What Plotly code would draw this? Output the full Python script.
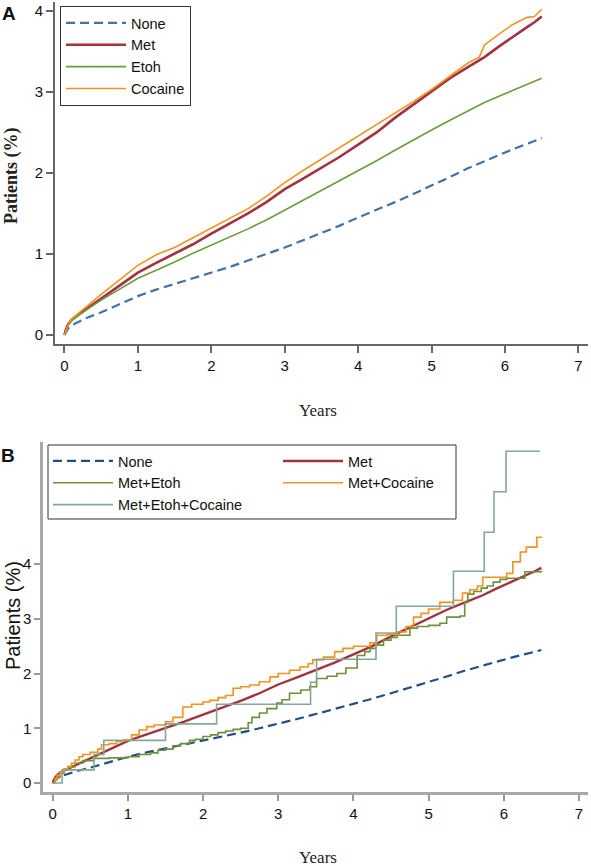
import plotly.graph_objects as go

# ---------------- Panel A data ----------------
years_a = [0, 0.02, 0.05, 0.1, 0.2, 0.3, 0.5, 0.75, 1.0, 1.25, 1.5, 1.75, 2.0, 2.25, 2.5,
           2.75, 3.0, 3.25, 3.5, 3.75, 4.0, 4.25, 4.5, 4.75, 5.0, 5.25, 5.5, 5.65, 5.72,
           5.9, 6.1, 6.3, 6.4, 6.5]
none_pct = [0, 0.04, 0.08, 0.12, 0.17, 0.21, 0.28, 0.38, 0.48, 0.56, 0.63, 0.70, 0.77, 0.84,
            0.92, 1.00, 1.08, 1.17, 1.26, 1.35, 1.45, 1.54, 1.64, 1.74, 1.85, 1.95, 2.06,
            2.12, 2.14, 2.21, 2.29, 2.36, 2.40, 2.43]
met_pct = [0, 0.07, 0.13, 0.19, 0.26, 0.32, 0.45, 0.61, 0.77, 0.89, 1.00, 1.12, 1.25, 1.37,
           1.50, 1.64, 1.80, 1.93, 2.06, 2.20, 2.35, 2.50, 2.68, 2.84, 3.00, 3.17, 3.31,
           3.39, 3.43, 3.55, 3.68, 3.80, 3.86, 3.93]
etoh_pct = [0, 0.06, 0.12, 0.18, 0.25, 0.31, 0.43, 0.57, 0.70, 0.80, 0.90, 1.01, 1.11, 1.21,
            1.31, 1.42, 1.54, 1.66, 1.78, 1.90, 2.02, 2.15, 2.28, 2.41, 2.53, 2.65, 2.77,
            2.84, 2.87, 2.94, 3.02, 3.10, 3.13, 3.17]
cocaine_pct = [0, 0.06, 0.12, 0.20, 0.28, 0.35, 0.50, 0.68, 0.86, 0.99, 1.08, 1.20, 1.32,
               1.44, 1.56, 1.71, 1.88, 2.03, 2.17, 2.31, 2.45, 2.59, 2.73, 2.88, 3.03, 3.20,
               3.36, 3.43, 3.58, 3.70, 3.83, 3.92, 3.93, 4.02]

# ---------------- Panel B data ----------------
met_etoh_years = [0, 0.03, 0.06, 0.1, 0.15, 0.2, 0.3, 0.4, 0.55, 0.75, 1.0, 1.15, 1.3, 1.4,
                  1.5, 1.6, 1.7, 1.82, 1.9, 2.0, 2.1, 2.2, 2.3, 2.4, 2.5, 2.6, 2.65, 2.75,
                  2.85, 2.98, 3.05, 3.15, 3.3, 3.42, 3.51, 3.65, 3.78, 3.9, 4.05, 4.15, 4.22,
                  4.3, 4.4, 4.5, 4.58, 4.75, 4.85, 5.0, 5.15, 5.24, 5.42, 5.48, 5.52, 5.6,
                  5.7, 5.78, 5.86, 5.95, 6.04, 6.28, 6.5]
met_etoh_pct = [0, 0.06, 0.11, 0.18, 0.24, 0.30, 0.36, 0.41, 0.45, 0.46, 0.48, 0.52, 0.55,
                0.60, 0.62, 0.68, 0.72, 0.78, 0.80, 0.85, 0.88, 0.92, 0.95, 0.98, 1.00, 1.10,
                1.20, 1.28, 1.36, 1.46, 1.52, 1.64, 1.70, 1.76, 1.91, 1.95, 2.00, 2.10, 2.33,
                2.40, 2.46, 2.52, 2.61, 2.66, 2.70, 2.83, 2.86, 2.88, 2.92, 3.03, 3.05, 3.30,
                3.45, 3.50, 3.56, 3.60, 3.67, 3.72, 3.74, 3.86, 3.88]
met_coc_years = [0, 0.03, 0.06, 0.1, 0.15, 0.2, 0.25, 0.3, 0.35, 0.4, 0.5, 0.6, 0.65, 0.75,
                 0.85, 0.95, 1.05, 1.15, 1.25, 1.35, 1.5, 1.6, 1.73, 1.85, 2.0, 2.09, 2.2,
                 2.3, 2.4, 2.5, 2.62, 2.75, 2.89, 3.0, 3.15, 3.29, 3.4, 3.46, 3.6, 3.75, 3.86,
                 4.0, 4.22, 4.31, 4.45, 4.58, 4.7, 4.8, 4.9, 5.0, 5.15, 5.33, 5.45, 5.55,
                 5.65, 5.72, 6.04, 6.12, 6.22, 6.3, 6.44, 6.5]
met_coc_pct = [0, 0.08, 0.14, 0.20, 0.26, 0.30, 0.36, 0.42, 0.48, 0.52, 0.56, 0.62, 0.70,
               0.72, 0.76, 0.79, 0.88, 0.97, 1.03, 1.06, 1.12, 1.20, 1.39, 1.44, 1.48, 1.51,
               1.56, 1.60, 1.73, 1.76, 1.79, 1.85, 1.94, 2.00, 2.06, 2.12, 2.18, 2.25, 2.30,
               2.40, 2.46, 2.50, 2.56, 2.70, 2.72, 2.76, 2.86, 3.03, 3.10, 3.18, 3.30, 3.34,
               3.47, 3.53, 3.60, 3.76, 3.83, 4.04, 4.22, 4.31, 4.49, 4.50]
triple_years = [0, 0.125, 0.55, 0.68, 1.5, 2.18, 3.43, 3.51, 4.3, 4.57, 5.33, 5.74, 5.87,
                6.03, 6.48]
triple_pct = [0, 0.24, 0.52, 0.78, 1.08, 1.44, 1.84, 2.26, 2.74, 3.23, 3.87, 4.58, 5.32,
              6.06, 6.06]

x_ticks = [0, 1, 2, 3, 4, 5, 6, 7]
y_ticks_a = [0, 1, 2, 3, 4]
y_ticks_b = [0, 1, 2, 3, 4]

W, H = 591, 866
SANS = "Liberation Sans"
SERIF = "Liberation Serif"

C_NONE_A = "#4472a4"
C_NONE_B = "#1f4f86"
C_MET = "#a3323f"
C_ETOH = "#6b9c3d"
C_METETOH = "#6f8f3c"
C_COC = "#f4921f"
C_TRIPLE = "#86a797"

fig = go.Figure()

# Panel A
fig.add_trace(go.Scatter(x=years_a, y=none_pct, mode="lines", name="None",
                         line=dict(color=C_NONE_A, width=2.2, dash="9px,5px"),
                         xaxis="x", yaxis="y", legend="legend"))
fig.add_trace(go.Scatter(x=years_a, y=met_pct, mode="lines", name="Met",
                         line=dict(color=C_MET, width=2.6), xaxis="x", yaxis="y",
                         legend="legend"))
fig.add_trace(go.Scatter(x=years_a, y=etoh_pct, mode="lines", name="Etoh",
                         line=dict(color=C_ETOH, width=1.6), xaxis="x", yaxis="y",
                         legend="legend"))
fig.add_trace(go.Scatter(x=years_a, y=cocaine_pct, mode="lines", name="Cocaine",
                         line=dict(color=C_COC, width=1.6), xaxis="x", yaxis="y",
                         legend="legend"))

# Panel B
fig.add_trace(go.Scatter(x=years_a, y=none_pct, mode="lines", name="None",
                         line=dict(color=C_NONE_B, width=2.2, dash="9px,5px"),
                         xaxis="x2", yaxis="y2", legend="legend2"))
fig.add_trace(go.Scatter(x=years_a, y=met_pct, mode="lines", name="Met",
                         line=dict(color=C_MET, width=2.4), xaxis="x2", yaxis="y2",
                         legend="legend2"))
fig.add_trace(go.Scatter(x=met_etoh_years, y=met_etoh_pct, mode="lines", name="Met+Etoh",
                         line=dict(color=C_METETOH, width=1.6, shape="hv"),
                         xaxis="x2", yaxis="y2", legend="legend2"))
fig.add_trace(go.Scatter(x=met_coc_years, y=met_coc_pct, mode="lines", name="Met+Cocaine",
                         line=dict(color=C_COC, width=1.6, shape="hv"),
                         xaxis="x2", yaxis="y2", legend="legend2"))
fig.add_trace(go.Scatter(x=triple_years, y=triple_pct, mode="lines",
                         name="Met+Etoh+Cocaine",
                         line=dict(color=C_TRIPLE, width=1.6, shape="hv"),
                         xaxis="x2", yaxis="y2", legend="legend2"))

def px_x(p):
    return p / W

def px_y(p):
    return 1 - p / H

axis_common = dict(showgrid=False, zeroline=False, showline=True, ticks="outside",
                   mirror=False, fixedrange=True, automargin=False,
                   ticklabeloverflow="allow")

fig.update_layout(
    width=W, height=H,
    margin=dict(l=0, r=0, t=0, b=0, pad=0, autoexpand=False),
    paper_bgcolor="white", plot_bgcolor="white",
    xaxis=dict(domain=[px_x(55), px_x(588)], range=[-0.129, 7.13], anchor="y",
               tickvals=x_ticks, ticklen=7, tickwidth=1.5, tickcolor="#666",
               linecolor="#666", linewidth=1.6,
               tickfont=dict(family=SANS, size=15, color="#111"), **axis_common),
    yaxis=dict(domain=[px_y(344), px_y(2)], range=[-0.111, 4.11], anchor="x",
               tickvals=y_ticks_a, ticklen=7, tickwidth=1.5, tickcolor="#666",
               linecolor="#666", linewidth=1.6,
               tickfont=dict(family=SANS, size=15, color="#111"), **axis_common),
    xaxis2=dict(domain=[px_x(43), px_x(588)], range=[-0.129, 7.12], anchor="y2",
                tickvals=x_ticks, ticklen=6, tickwidth=1.5, tickcolor="#999",
                linecolor="#a8a8a8", linewidth=2.5,
                tickfont=dict(family=SANS, size=15, color="#111"), **axis_common),
    yaxis2=dict(domain=[px_y(792), px_y(442)], range=[-0.164, 6.23], anchor="x2",
                tickvals=y_ticks_b, ticklen=6, tickwidth=1.5, tickcolor="#999",
                linecolor="#a8a8a8", linewidth=2.5,
                tickfont=dict(family=SANS, size=15, color="#111"), **axis_common),
    legend=dict(x=px_x(60), y=px_y(6), xanchor="left", yanchor="top",
                bordercolor="#333", borderwidth=1, bgcolor="white",
                itemwidth=60, traceorder="normal",
                font=dict(family=SANS, size=14.5, color="#111")),
    legend2=dict(x=px_x(48), y=px_y(445), xanchor="left", yanchor="top",
                 orientation="h", entrywidth=155, entrywidthmode="pixels",
                 borderwidth=0, bgcolor="rgba(0,0,0,0)",
                 itemwidth=60, traceorder="normal",
                 font=dict(family=SANS, size=14.5, color="#111")),
    showlegend=True,
    # frame drawn round the two-column legend of panel B
    shapes=[dict(type="rect", xref="paper", yref="paper", layer="below",
                 x0=px_x(48), x1=px_x(456), y0=px_y(519), y1=px_y(445),
                 line=dict(color="#333", width=1), fillcolor="white")],
)

annotations = [
    dict(text="<b>A</b>", x=px_x(9), y=px_y(14), font=dict(family=SANS, size=19, color="#111")),
    dict(text="<b>B</b>", x=px_x(8), y=px_y(455), font=dict(family=SANS, size=19, color="#111")),
    dict(text="<b>Patients (%)</b>", x=px_x(11), y=px_y(176), textangle=-90,
         font=dict(family=SERIF, size=18, color="#222")),
    dict(text="Patients (%)", x=px_x(13), y=px_y(616), textangle=-90,
         font=dict(family=SANS, size=20, color="#111")),
    dict(text="Years", x=px_x(318), y=px_y(410), font=dict(family=SERIF, size=17, color="#222")),
    dict(text="Years", x=px_x(318), y=px_y(857), font=dict(family=SERIF, size=17, color="#222")),
]
for a in annotations:
    a.update(xref="paper", yref="paper", showarrow=False, xanchor="center", yanchor="middle")
fig.update_layout(annotations=annotations)

fig.write_html(
    "out.html",
    config={"displayModeBar": False},
    post_script="document.body.style.margin='0px';document.body.style.overflow='hidden';",
)
